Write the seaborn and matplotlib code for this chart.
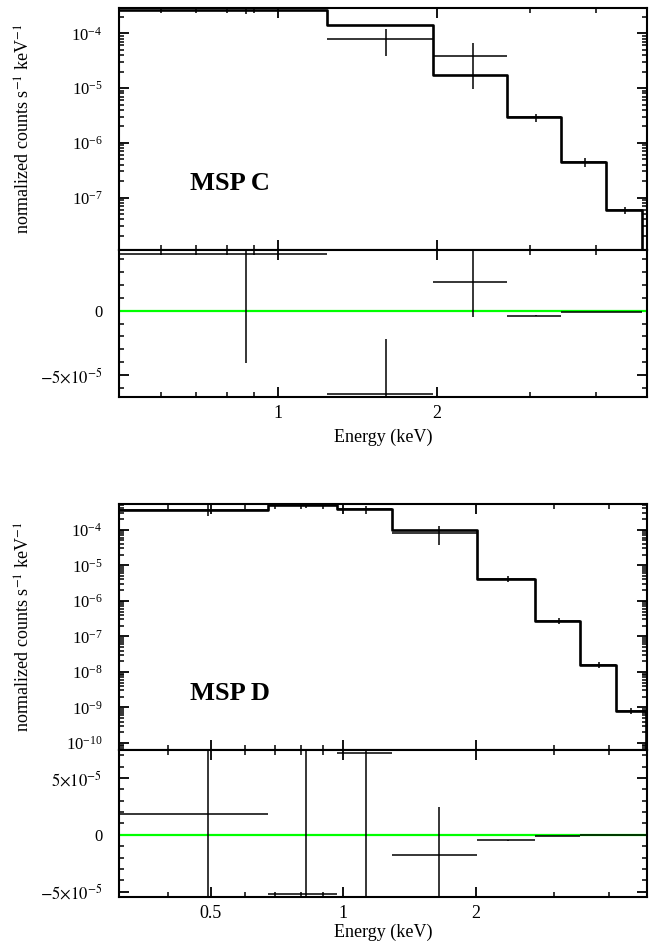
import numpy as np
import matplotlib
matplotlib.use("Agg")
import matplotlib.pyplot as plt
import seaborn as sns
from matplotlib.ticker import (FixedLocator, FixedFormatter, NullFormatter,
                               LogLocator, LogFormatterSciNotation, MultipleLocator)

# ---------------- MSP C ----------------
c_edges = [0.5, 1.24, 1.97, 2.71, 3.44, 4.18, 4.9]
c_model = [2.7e-4, 1.43e-4, 1.74e-5, 2.94e-6, 4.5e-7, 5.9e-8]
c_data = [3.14e-4, 7.9e-5, 3.88e-5, 2.9e-6, 4.4e-7, 5.8e-8]
c_data_err = [8.45e-5, 4.1e-5, 2.9e-5, 0.5e-6, 0.8e-7, 0.9e-8]
c_resid = [4.41e-5, -6.48e-5, 2.2e-5, -3.9e-6, -1.1e-6, -0.8e-6]
c_resid_err = [8.45e-5, 4.26e-5, 2.7e-5, 0.4e-6, 0.2e-6, 0.1e-6]

# ---------------- MSP D ----------------
d_edges = [0.31, 0.676, 0.968, 1.288, 2.005, 2.72, 3.44, 4.15, 4.85]
d_model = [3.66e-4, 5.1e-4, 3.9e-4, 1.0e-4, 4.17e-6, 2.73e-7, 1.57e-8, 8.0e-10]
d_data = [3.7e-4, 5.0e-4, 3.8e-4, 8.1e-5, 4.1e-6, 2.7e-7, 1.55e-8, 7.9e-10]
d_data_err = [1.2e-4, 0.8e-4, 1.0e-4, 4.3e-5, 0.8e-6, 0.5e-7, 0.3e-8, 1.5e-10]
d_resid = [1.8e-5, -5.23e-5, 7.23e-5, -1.79e-5, -4.7e-6, -1.1e-6, -0.3e-6, -0.2e-6]
d_resid_err = [1.2e-4, 1.4e-4, 1.4e-4, 4.26e-5, 0.6e-6, 0.3e-6, 0.1e-6, 0.1e-6]

sns.set_theme(style="white")
plt.rcParams.update({
    "font.family": ["Liberation Serif", "DejaVu Serif"],
    "mathtext.fontset": "stix",
    "font.size": 13,
    "text.color": "black",
    "axes.labelcolor": "black",
    "axes.linewidth": 1.5,
    "axes.edgecolor": "black",
    "xtick.color": "black", "ytick.color": "black",
    "xtick.labelcolor": "black", "ytick.labelcolor": "black",
    "xtick.direction": "in", "ytick.direction": "in",
    "xtick.top": True, "ytick.right": True,
    "xtick.bottom": True, "ytick.left": True,
    "xtick.major.size": 7, "ytick.major.size": 7,
    "xtick.minor.size": 3.8, "ytick.minor.size": 3.8,
    "xtick.major.width": 1.3, "ytick.major.width": 1.3,
    "xtick.minor.width": 1.1, "ytick.minor.width": 1.1,
    "xtick.labelsize": 13, "ytick.labelsize": 12,
})

W, H = 660, 946
fig = plt.figure(figsize=(W / 100, H / 100), dpi=100)


def px_axes(left, top, right, bottom):
    return fig.add_axes([left / W, 1 - bottom / H, (right - left) / W, (bottom - top) / H])


def draw_panel(spec_box, res_box, edges, model, data, data_err, resid, resid_err,
               xlim, ylim, rlim, xmajor, xminor, rticks, name, name_y, xlabel_gap):
    edges = np.asarray(edges)
    centers = 0.5 * (edges[:-1] + edges[1:])
    half = 0.5 * (edges[1:] - edges[:-1])

    ax = px_axes(*spec_box)
    axr = px_axes(*res_box)
    for a in (ax, axr):
        a.set_xscale("log")
        a.set_xlim(*xlim)
        a.xaxis.set_major_locator(FixedLocator(xmajor))
        a.xaxis.set_minor_locator(FixedLocator(xminor))
        a.xaxis.set_minor_formatter(NullFormatter())
        a.tick_params(which="both", top=True, right=True)
    ax.set_yscale("log")
    ax.set_ylim(*ylim)

    # model as a histogram step that falls off past the last channel
    step_y = list(model) + [ylim[0] * 1e-3]
    sns.lineplot(x=list(edges), y=step_y, ax=ax, color="black", lw=1.9,
                 drawstyle="steps-post", estimator=None, sort=False, legend=False)
    data = np.asarray(data)
    data_err = np.asarray(data_err)
    lo = np.minimum(data_err, data - ylim[0] * 1e-3)
    ax.errorbar(centers, data, xerr=half, yerr=[lo, data_err], fmt="none",
                ecolor="black", elinewidth=1.1, capsize=0)

    ax.yaxis.set_major_locator(LogLocator(base=10, numticks=30))
    ax.yaxis.set_major_formatter(LogFormatterSciNotation())
    ax.yaxis.set_minor_locator(LogLocator(base=10, subs=np.arange(2, 10), numticks=200))
    ax.yaxis.set_minor_formatter(NullFormatter())
    ax.tick_params(axis="x", labelbottom=False)
    ax.tick_params(axis="y", pad=12)
    ax.set_xlabel("")
    ax.set_ylabel(r"normalized counts s$^{-1}$ keV$^{-1}$", fontsize=13)
    ax.yaxis.set_label_coords(-(spec_box[0] - 34) / (spec_box[2] - spec_box[0]), 0.5)
    ax.text(0.135, name_y, name, transform=ax.transAxes, fontsize=19,
            fontweight="bold", ha="left", va="baseline", color="black")

    # residuals
    axr.axhline(0, color="#00ff00", lw=1.6, zorder=1)
    axr.errorbar(centers, resid, xerr=half, yerr=resid_err, fmt="none",
                 ecolor="black", elinewidth=1.1, capsize=0, zorder=3)
    axr.set_ylim(*rlim)
    axr.yaxis.set_major_locator(FixedLocator([t for t, _ in rticks]))
    axr.yaxis.set_major_formatter(FixedFormatter([s for _, s in rticks]))
    axr.yaxis.set_minor_locator(MultipleLocator(1e-5))
    axr.xaxis.set_major_formatter(FixedFormatter([str(v) for v in xmajor]))
    axr.tick_params(axis="y", pad=12)
    axr.tick_params(axis="x", pad=6)
    axr.set_xlabel("Energy (keV)", fontsize=13)
    axr.xaxis.set_label_coords(0.5, -(xlabel_gap / (res_box[3] - res_box[1])))
    axr.set_ylabel("")
    for a in (ax, axr):
        for s in a.spines.values():
            s.set_color("black")
            s.set_linewidth(1.5)


res_ticks_c = [(-5e-5, r"$-5{\times}10^{-5}$"), (0.0, "0")]
res_ticks_d = [(-5e-5, r"$-5{\times}10^{-5}$"), (0.0, "0"), (5e-5, r"$5{\times}10^{-5}$")]

draw_panel((119, 8, 647, 250), (119, 250, 647, 397),
           c_edges, c_model, c_data, c_data_err, c_resid, c_resid_err,
           xlim=(0.5, 5.0), ylim=(1.1e-8, 2.9e-4), rlim=(-6.71e-5, 4.72e-5),
           xmajor=[1, 2], xminor=[0.5, 0.6, 0.7, 0.8, 0.9, 3, 4],
           rticks=res_ticks_c, name="MSP C", name_y=0.248, xlabel_gap=32)

draw_panel((119, 504, 647, 750), (119, 750, 647, 897),
           d_edges, d_model, d_data, d_data_err, d_resid, d_resid_err,
           xlim=(0.31, 4.88), ylim=(6.35e-11, 5.3e-4), rlim=(-5.47e-5, 7.47e-5),
           xmajor=[0.5, 1, 2], xminor=[0.4, 0.6, 0.7, 0.8, 0.9, 3, 4],
           rticks=res_ticks_d, name="MSP D", name_y=0.2035, xlabel_gap=27)

fig.savefig("out.png", dpi=100, facecolor="white")
